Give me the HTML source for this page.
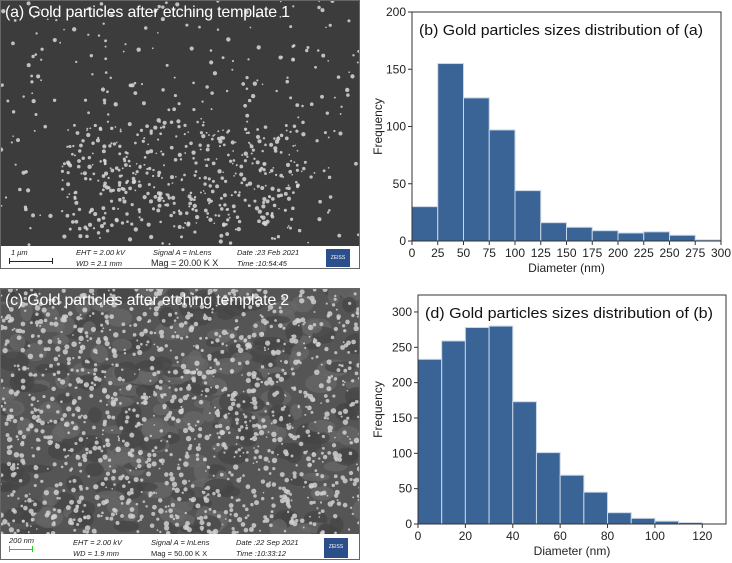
<!DOCTYPE html>
<html><head><meta charset="utf-8"><style>
body{margin:0;width:732px;height:563px;background:#fff;overflow:hidden;font-family:"Liberation Sans",sans-serif;position:relative}
.sem{position:absolute;left:0;width:360px;overflow:hidden;border:1px solid #666;box-sizing:border-box}
.info{position:absolute;left:0;width:100%;background:#fff;font-size:7.5px;font-style:italic;color:#222}
.info span{position:absolute}
.cap{position:absolute;left:4px;font-size:16px;color:#fff;font-family:"Liberation Sans",sans-serif;white-space:nowrap;letter-spacing:-0.2px}
svg text{font-family:"Liberation Sans",sans-serif}
</style></head><body>
<div class="sem" id="semA" style="top:0;height:269px;background:#3c3c3c">
<svg id="texA" width="360" height="245" style="position:absolute;left:0;top:0"></svg>
<div class="cap" style="top:3px">(a) Gold particles after etching template 1</div>
<div class="info" style="top:245px;height:24px">
<span style="left:10px;top:2px">1 μm</span><span style="left:8px;top:12px;width:42px;height:6px;border-left:1px solid #222;border-right:1px solid #222"><i style="position:absolute;top:3px;width:100%;border-top:1px solid #222"></i></span>
<span style="left:75px;top:2px">EHT = 2.00 kV</span><span style="left:75px;top:13px">WD = 2.1 mm</span>
<span style="left:152px;top:2px">Signal A = InLens</span><span style="left:150px;top:12px;font-style:normal;font-size:9px">Mag = 20.00 K X</span>
<span style="left:236px;top:2px">Date :23 Feb 2021</span><span style="left:236px;top:13px">Time :10:54:45</span>
<span style="left:325px;top:3px;width:24px;height:18px;background:#2a4f8a;color:#fff;font-size:5px;font-style:normal;text-align:center;line-height:18px">ZEISS</span></div>
</div>
<div class="sem" id="semC" style="top:288px;height:272px;background:#555">
<svg id="texC" width="360" height="245" style="position:absolute;left:0;top:0"></svg>
<div class="cap" style="top:3px">(c) Gold particles after etching template 2</div>
<div class="info" style="top:245px;height:27px">
<span style="left:8px;top:2px">200 nm</span><span style="left:8px;top:12px;width:22px;height:6px;border-left:1px solid #2c2;border-right:1px solid #2c2"><i style="position:absolute;top:3px;width:100%;border-top:1px solid #2c2"></i></span>
<span style="left:72px;top:4px">EHT = 2.00 kV</span><span style="left:72px;top:15px">WD = 1.9 mm</span>
<span style="left:150px;top:4px">Signal A = InLens</span><span style="left:150px;top:15px;font-style:normal">Mag = 50.00 K X</span>
<span style="left:235px;top:4px">Date :22 Sep 2021</span><span style="left:235px;top:15px">Time :10:33:12</span>
<span style="left:323px;top:4px;width:24px;height:20px;background:#2a4f8a;color:#fff;font-size:5px;font-style:normal;text-align:center;line-height:18px">ZEISS</span></div>
</div>
<svg id="chartB" width="372" height="280" style="position:absolute;left:360px;top:0"></svg>
<svg id="chartD" width="372" height="283" style="position:absolute;left:360px;top:280px"></svg>
<script>
const binsB=[0,25,50,75,100,125,150,175,200,225,250,275];
const freqB=[30,155,125,97,44,16,12,9,7,8,5,1];
const xTicksB=[0,25,50,75,100,125,150,175,200,225,250,275,300];
const yTicksB=[0,50,100,150,200];
const binsD=[0,10,20,30,40,50,60,70,80,90,100,110];
const freqD=[233,259,278,280,173,101,69,45,16,8,4,2];
const xTicksD=[0,20,40,60,80,100,120];
const yTicksD=[0,50,100,150,200,250,300];
const NS='http://www.w3.org/2000/svg';
function mk(p,t,a){const e=document.createElementNS(NS,t);for(const k in a)e.setAttribute(k,a[k]);p.appendChild(e);return e;}
function hist(svg,o){
 const L=o.L,R=o.R,T=o.T,B=o.B;
 const sx=v=>L+(v-o.x0)/(o.x1-o.x0)*(R-L), sy=v=>B-(v-o.y0)/(o.y1-o.y0)*(B-T);
 o.bins.forEach((b,i)=>{const r=mk(svg,'rect',{x:sx(b),y:sy(o.vals[i]),width:sx(b+o.w)-sx(b),height:B-sy(o.vals[i]),fill:'#3a6496',stroke:'#c8d6e8','stroke-width':1});
 
 });
 mk(svg,'rect',{x:L,y:T,width:R-L,height:B-T,fill:'none',stroke:'#333','stroke-width':1});
 o.xt.forEach(v=>{mk(svg,'line',{x1:sx(v),x2:sx(v),y1:B,y2:B+4,stroke:'#333'});
  const t=mk(svg,'text',{x:sx(v),y:B+16,'text-anchor':'middle','font-size':12,fill:'#222'});t.textContent=v;
  
  });
 o.yt.forEach(v=>{mk(svg,'line',{x1:L-4,x2:L,y1:sy(v),y2:sy(v),stroke:'#333'});
  const t=mk(svg,'text',{x:L-6,y:sy(v)+4,'text-anchor':'end','font-size':12,fill:'#222'});t.textContent=v;
  
  });
 const xl=mk(svg,'text',{x:(L+R)/2,y:B+31,'text-anchor':'middle','font-size':12,fill:'#222'});xl.textContent='Diameter (nm)';
 
 
 const yl=mk(svg,'text',{x:0,y:0,'text-anchor':'middle','font-size':12,fill:'#222',transform:`translate(${o.yx},${(T+B)/2}) rotate(-90)`});yl.textContent='Frequency';
 
 
 const ti=mk(svg,'text',{x:L+7,y:T+23,'font-size':15,fill:'#111',textLength:o.tl,lengthAdjust:'spacingAndGlyphs'});ti.textContent=o.title;
 
 
}
hist(document.getElementById('chartB'),{L:52,R:361,T:12,B:241,x0:0,x1:300,y0:0,y1:200,w:25,bins:binsB,vals:freqB,xt:xTicksB,yt:yTicksB,yx:22,tl:284,title:'(b) Gold particles sizes distribution of (a)'});
hist(document.getElementById('chartD'),{L:58,R:366,T:15,B:244,x0:0,x1:130,y0:0,y1:324,w:10,bins:binsD,vals:freqD,xt:xTicksD,yt:yTicksD,yx:22,tl:288,title:'(d) Gold particles sizes distribution of (b)'});
// decorative SEM texture
let s=7;function rnd(){s=(s*16807)%2147483647;return s/2147483647;}
function tex(id,n,col,rmax,bg){const g=document.getElementById(id);
 if(bg){for(let i=0;i<260;i++)mk(g,'ellipse',{cx:rnd()*360,cy:rnd()*245,rx:6+rnd()*10,ry:4+rnd()*7,fill:rnd()<0.5?'#6a6a6a':'#444',opacity:0.7});}
 for(let i=0;i<n;i++){let cx=rnd()*360,cy=rnd()*245;if(!bg&&rnd()<0.6){cx=60+rnd()*240;cy=120+rnd()*110;}
 mk(g,'circle',{cx:cx,cy:cy,r:0.8+rnd()*rmax,fill:col,opacity:0.85});}}
tex('texA',700,'#d8d8d8',1.4,false);
tex('texC',1400,'#cfcfcf',2,true);
</script>
</body></html>
